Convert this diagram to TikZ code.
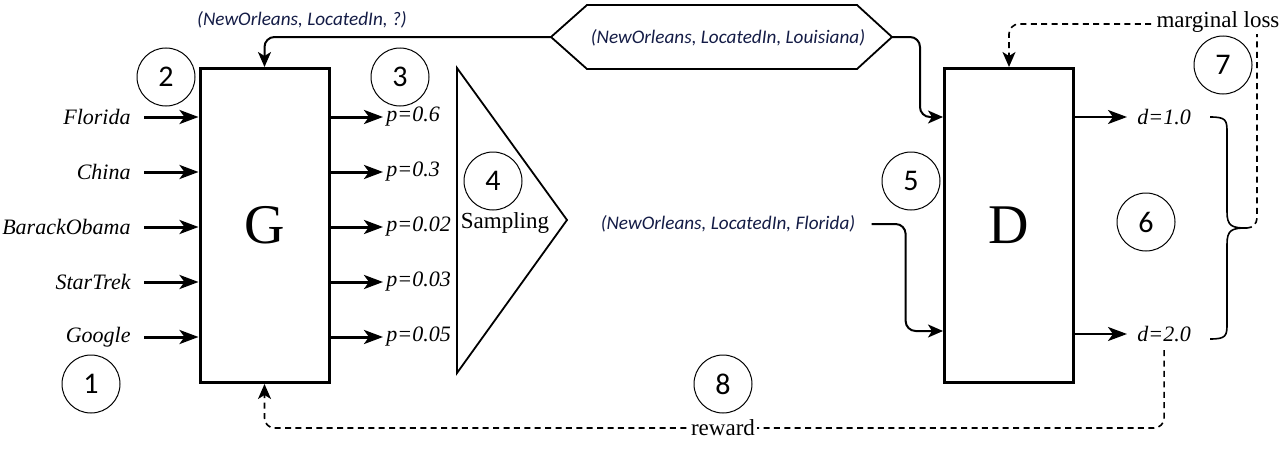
\documentclass[tikz,border=0pt]{standalone}
\usepackage{fontspec}
\setmainfont{Liberation Serif}
\newfontfamily\calib{Carlito}
\usetikzlibrary{arrows.meta,calc}
\definecolor{triple}{RGB}{20,28,70}
\begin{document}
\begin{tikzpicture}[x=0.5pt,y=-0.5pt,
  box/.style={draw,line width=1.5pt,minimum width=64.5pt,minimum height=157pt,inner sep=0pt,font=\fontsize{28}{30}\selectfont},
  num/.style={draw,circle,line width=0.5pt,minimum size=29pt,inner sep=0pt,font=\calib\fontsize{15}{17}\selectfont},
  inp/.style={anchor=east,inner sep=0pt,font=\itshape\fontsize{11}{13}\selectfont},
  outp/.style={anchor=west,inner sep=0pt,font=\itshape\fontsize{11}{13}\selectfont},
  trip/.style={font=\calib\itshape\fontsize{9.6}{12}\selectfont,text=triple,inner sep=1pt},
  lbl/.style={font=\fontsize{11.5}{13}\selectfont,inner sep=1pt},
  thickarr/.style={line width=1.5pt,-{Stealth[length=9.5pt,width=7pt,inset=2.5pt]}},
  conn/.style={line width=1pt,rounded corners=5pt,-{Stealth[length=7.5pt,width=6.5pt,inset=2pt]}},
  dconn/.style={line width=0.8pt,dash pattern=on 3pt off 2.2pt,rounded corners=5pt,-{Stealth[length=7.5pt,width=6.5pt,inset=2pt]}},
]
\useasboundingbox (0,0) rectangle (1280,455);

% boxes
\node[box] (G) at (264.5,225.5) {G};
\node[box] (D) at (1009,225.5) {D};

% inputs
\node[inp] (i1) at (131,117) {Florida};
\node[inp] (i2) at (131,172) {China};
\node[inp] (i3) at (131,227) {BarackObama};
\node[inp] (i4) at (131,282) {StarTrek};
\node[inp] (i5) at (131,337) {Google};
\foreach \i in {1,...,5}{
  \draw[thickarr] ([xshift=6.5pt]i\i.east) -- (G.west |- i\i);
}

% outputs of G
\node[outp] (p1) at (386,117) {p=0.6};
\node[outp] (p2) at (386,172) {p=0.3};
\node[outp] (p3) at (386,227) {p=0.02};
\node[outp] (p4) at (386,282) {p=0.03};
\node[outp] (p5) at (386,337) {p=0.05};
\foreach \i in {1,...,5}{
  \draw[thickarr] (G.east |- p\i) -- ([xshift=-1.5pt]p\i.west);
}

% sampling triangle
\draw[line width=0.9pt,line join=miter] (457,68) -- (567,220) -- (457,373) -- cycle;
\node[lbl] (samp) at (505,223) {Sampling};

% hexagon with true triple
\draw[line width=0.9pt] (551,37) -- (587,5) -- (857,5) -- (892,37) -- (857,69) -- (587,69) -- cycle;
\coordinate (hl) at (551,37);
\coordinate (hr) at (892,37);
\node[trip] (tl) at (728,38) {(NewOrleans, LocatedIn, Louisiana)};

% query triple
\node[trip] (tq) at (302,20) {(NewOrleans, LocatedIn, ?)};
\draw[conn] (hl) -| (G.north);

% true triple into D
\draw[conn] (hr) -- ++(28,0) |- (D.west |- 118,117);

% sampled triple
\node[trip] (tf) at (728,224) {(NewOrleans, LocatedIn, Florida)};
\draw[conn] ([xshift=7pt]tf.east) -- ++(34,0) |- (D.west |- 0,331);

% outputs of D
\node[outp] (d1) at (1137,117) {d=1.0};
\node[outp] (d2) at (1137,334) {d=2.0};
\draw[thickarr,line width=1.2pt] (D.east |- d1) -- ([xshift=-5pt]d1.west);
\draw[thickarr,line width=1.2pt] (D.east |- d2) -- ([xshift=-5pt]d2.west);

% brace
\coordinate (bt) at (1246,228);
\draw[line width=0.8pt] (1210,117) .. controls (1226,117) and (1227,120) .. (1227,132) -- (1227,212)
  .. controls (1227,226) and (1232,228) .. (bt)
  .. controls (1232,228) and (1227,230) .. (1227,244) -- (1227,324)
  .. controls (1227,336) and (1226,339) .. (1210,339);

% marginal loss feedback
\draw[dconn] (bt) -- (1257,228) |- (D.north |- 0,24) -- (D.north);
\node[lbl,fill=white] (ml) at (1218,22) {marginal loss};

% reward feedback
\draw[dconn] ([yshift=-4pt]d2.south) |- (G.south |- 0,428) -- (G.south);
\node[lbl,fill=white] (rw) at (723,428) {reward};

% numbered circles
\node[num] (c1) at (91,384) {1};
\node[num] (c2) at (166,77) {2};
\node[num] (c3) at (400,77) {3};
\node[num] (c4) at (493,181) {4};
\node[num] (c5) at (911,181) {5};
\node[num] (c6) at (1146,222) {6};
\node[num] (c7) at (1223,65) {7};
\node[num] (c8) at (723,384) {8};
\end{tikzpicture}
\end{document}
